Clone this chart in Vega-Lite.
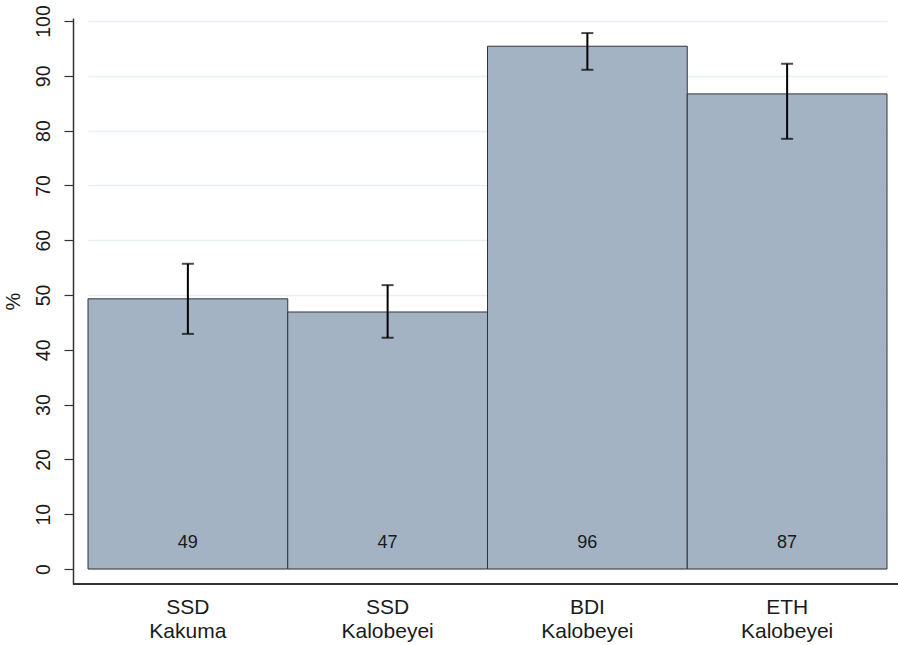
{
  "$schema": "https://vega.github.io/schema/vega-lite/v6.json",
  "width": 825,
  "height": 566,
  "autosize": {"type": "none"},
  "padding": {"left": 73, "top": 18, "right": 0, "bottom": 61},
  "background": "white",
  "config": {
    "view": {"stroke": null},
    "font": "Liberation Sans"
  },
  "data": {
    "values": [
      {"group": "SSD Kakuma", "pct": 49.3, "lo": 42.9, "hi": 55.7, "label": "49"},
      {"group": "SSD Kalobeyei", "pct": 46.9, "lo": 42.2, "hi": 51.8, "label": "47"},
      {"group": "BDI Kalobeyei", "pct": 95.4, "lo": 91.1, "hi": 97.8, "label": "96"},
      {"group": "ETH Kalobeyei", "pct": 86.7, "lo": 78.5, "hi": 92.2, "label": "87"}
    ]
  },
  "layer": [
    {
      "mark": {"type": "bar", "color": "#a3b3c3", "stroke": "#333", "strokeWidth": 1},
      "encoding": {
        "x": {
          "field": "group",
          "type": "nominal",
          "sort": null,
          "scale": {"paddingInner": 0, "paddingOuter": 0, "range": [15, 814]},
          "axis": {
            "title": null,
            "labelAngle": 0,
            "labelExpr": "split(datum.value, ' ')",
            "labelFontSize": 21,
            "labelColor": "#1a1a1a",
            "labelPadding": 12,
            "labelLineHeight": 24,
            "ticks": false,
            "domain": false,
            "grid": false
          }
        },
        "y": {
          "field": "pct",
          "type": "quantitative",
          "scale": {"domain": [-2.74, 100.55], "nice": false, "zero": false},
          "axis": {
            "title": "%",
            "titleFontSize": 20,
            "titleFontWeight": "normal",
            "titleColor": "#1a1a1a",
            "titleAngle": -90,
            "titlePadding": 10,
            "values": [0, 10, 20, 30, 40, 50, 60, 70, 80, 90, 100],
            "labelAngle": -90,
            "labelAlign": "center",
            "labelBaseline": "bottom",
            "labelFontSize": 19.5,
            "labelColor": "#1a1a1a",
            "labelPadding": 11,
            "tickSize": 9,
            "tickColor": "#333",
            "tickWidth": 1.2,
            "domainColor": "#333",
            "domainWidth": 1.5,
            "grid": true,
            "gridColor": "#e6eff1",
            "gridWidth": 1.5
          }
        },
        "y2": {"datum": 0}
      }
    },
    {
      "mark": {"type": "rule", "color": "#333", "strokeWidth": 1.5},
      "encoding": {"y": {"datum": -2.74}}
    },
    {
      "mark": {"type": "rule", "color": "black", "strokeWidth": 2},
      "encoding": {
        "x": {"field": "group", "type": "nominal", "sort": null},
        "y": {"field": "lo", "type": "quantitative"},
        "y2": {"field": "hi"}
      }
    },
    {
      "mark": {"type": "tick", "color": "black", "thickness": 2, "size": 12, "orient": "horizontal"},
      "encoding": {
        "x": {"field": "group", "type": "nominal", "sort": null},
        "y": {"field": "lo", "type": "quantitative"}
      }
    },
    {
      "mark": {"type": "tick", "color": "black", "thickness": 2, "size": 12, "orient": "horizontal"},
      "encoding": {
        "x": {"field": "group", "type": "nominal", "sort": null},
        "y": {"field": "hi", "type": "quantitative"}
      }
    },
    {
      "mark": {"type": "text", "fontSize": 18, "color": "#1a1a1a", "baseline": "middle"},
      "encoding": {
        "x": {"field": "group", "type": "nominal", "sort": null},
        "y": {"datum": 4.7},
        "text": {"field": "label"}
      }
    }
  ]
}
